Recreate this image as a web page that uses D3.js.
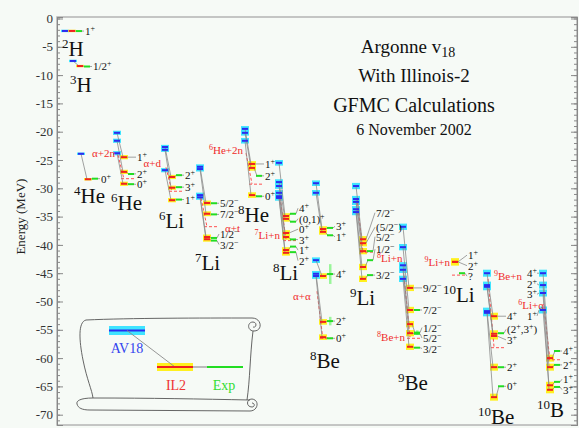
<!DOCTYPE html>
<html>
<head>
<meta charset="utf-8">
<script src="https://cdn.jsdelivr.net/npm/d3@7"></script>
<style>
  body { margin: 0; background: #f6faf6; }
  text { font-family: "Liberation Serif", "DejaVu Serif", serif; }
</style>
</head>
<body>
<div id="chart"></div>
<script>
// Set up the chart
var svgWidth = 579;
var svgHeight = 428;

var margin = {top: 17, right: 2, bottom: 3, left: 57};
var width = svgWidth - margin.left - margin.right;
var height = svgHeight - margin.top - margin.bottom;

// ---- data ----
var nuclei = ["2H", "3H", "4He", "6He", "6Li", "7Li", "8He", "8Li", "8Be", "9Li", "9Be", "10Li", "10Be", "10B"];
var massA  = [2, 3, 4, 6, 6, 7, 8, 8, 8, 9, 9, 10, 10, 10];
// slot of each nucleus along the (unlabelled) horizontal axis
var column = [5, 13, 21, 57, 105, 140, 185, 219, 256, 296, 343, 388, 427, 483];

var jpi = [
  ["1+"], ["1/2+"], ["0+"],
  ["1+", "2+", "0+"],
  ["2+", "3+", "1+"],
  ["5/2-", "7/2-", "1/2-", "3/2-"],
  ["1+", "2+", "0+"],
  ["4+", "(0,1)+", "0+", "3+", "1+", "2+"],
  ["3+", "1+", "4+", "2+", "0+"],
  ["7/2-", "(5/2-)", "5/2-", "1/2-", "3/2-"],
  ["9/2-", "7/2-", "1/2-", "5/2-", "3/2-"],
  ["1+", "2+", "?"],
  ["4+", "(2+,3+)", "3+", "2+", "0+"],
  ["4+", "2+", "3+", "1+"]
];

// energies in MeV
var av18 = [
  [-2.2], [-7.5], [-23.9],
  [-20.2, -21.6, -23.8],
  [-22.7, -23.2, -26.8],
  [-26.2, -26.6, -31.2, -31.6],
  [-19.5, -20.2, -21.6],
  [-25.5, -28.9, -29.6, -30.8, -31.4, -31.7],
  [-29.1, -30.8, -42.7, -45.1, -45.5],
  [-29.6, -31.9, -32.4, -33.7, -34.2],
  [-36.8, -40.4, -43.6, -44.4, -46.0],
  [null, null, null],
  [-45.0, -47.1, -47.4, -51.7, -52.0],
  [-45.0, -47.1, -48.5, -51.5]
];

var il2 = [
  [-2.2], [-8.4], [-28.4],
  [-24.5, -27.1, -29.2],
  [-28.0, -29.9, -32.1],
  [-32.6, -34.5, -38.6, -39.0],
  [-25.7, -26.4, -31.2],
  [-34.9, -35.4, -37.9, -38.6, -40.9, -41.4],
  [-37.2, -37.7, -45.5, -53.6, -56.3],
  [-39.0, -39.7, -41.1, -43.9, -46.0],
  [-47.6, -51.5, -54.0, -55.6, -58.0],
  [-43.0, -43.0, null],
  [-52.6, -55.7, -56.1, -61.6, -66.9],
  [-60.0, -61.6, -65.6, -64.8]
];

var expt = [
  [-2.22], [-8.48], [-28.30],
  [null, -27.47, -29.27],
  [-27.68, -29.80, -31.99],
  [-32.64, -34.61, -38.77, -39.24],
  [null, -27.8, -31.41],
  [-34.5, -35.9, null, -39.03, -40.30, -41.28],
  [-37.0, -38.3, -45.15, -53.46, -56.50],
  [null, null, -41.1, -42.7, -45.34],
  [null, -51.5, -55.5, -55.7, -58.16],
  [null, null, -45.0],
  [null, -55.6, null, -61.61, -64.98],
  [-58.75, -61.2, -65.1, -64.2]
];

// broad experimental states (full width, MeV)
var widthNucleus = ["8Be", "8Be", "9Be"];
var widthState   = ["4+", "2+", "1/2-"];
var widthMeV     = [3.5, 1.5, 0.8];

// breakup thresholds
var thrNucleus = ["6He", "6Li", "7Li", "8He", "8Li", "8Be", "9Li", "9Be", "10Li", "10Be", "10B"];
var thrName    = ["α+2n", "α+d", "α+t", "6He+2n", "7Li+n", "α+α", "8Li+n", "8Be+n", "9Li+n", "9Be+n", "6Li+α"];
var thrAv      = [-24.1, -26.3, -31.7, -23.8, -31.6, -48.2, -31.7, -45.5, null, -46.0, -50.9];
var thrIl      = [-28.4, -30.6, -36.8, -29.2, -39.0, -56.8, -41.4, -56.3, -46.0, -58.0, -60.5];
var thrExp     = [-28.30, -30.52, -36.78, -29.27, -39.24, -56.50, -41.28, -56.50, -45.34, -58.16, -60.29];

var majorTicks = d3.range(0, -71, -5);
var minorTicks = d3.range(0, -72, -1);

// ---- layout of annotations (not data) ----
var thrLayout = [
  {ref: "av", dx: 1, dy: -2, anchor: "end"},
  {ref: "av", dx: -1, dy: -4, anchor: "end"},
  {ref: "exp", dx: 28, dy: 1, anchor: "start"},
  {ref: "av", dx: 1, dy: -3, anchor: "end"},
  {ref: "exp", dx: 4, dy: -6, anchor: "end"},
  {ref: "av", dx: -20, dy: 5, anchor: "start"},
  {ref: "exp", dx: 24, dy: 6, anchor: "start"},
  {ref: "exp", dx: 5, dy: -1, anchor: "end"},
  {ref: "exp", dx: 5, dy: -13, anchor: "end"},
  {ref: "av", dx: 10, dy: -3, anchor: "start"},
  {ref: "av", dx: 4, dy: -2, anchor: "end"}
];
var namePos = [[62, 56], [70, 92], [74, 203], [111, 210], [159, 228], [195, 270], [238, 222],
               [273, 280], [310, 368], [350, 305], [398, 390], [443, 302], [478, 424], [537, 417]];
var labelNudge = {"9Li": [-20, -16, -17, -15, 0]};
var leftLabels = {"10B": [0, 0, 0, 6]};

var BLUE = "#2b2bf0", CYAN = "#3fe4ff", RED = "#f02020", YELLOW = "#fff01e", GREEN = "#22dd22", GRAY = "#8a8a8a";

// Create the SVG wrapper
var svg = d3.select("#chart")
  .append("svg")
  .attr("width", svgWidth)
  .attr("height", svgHeight);

svg.append("rect").attr("width", svgWidth).attr("height", svgHeight).attr("fill", "#f6faf6");

var x = d3.scaleLinear().domain([0, width]).range([margin.left, margin.left + width]);
var y = d3.scaleLinear().domain([0.265, -71.82]).range([margin.top, margin.top + height]);

// frame
svg.append("rect")
  .attr("x", margin.left).attr("y", margin.top)
  .attr("width", width).attr("height", height)
  .attr("fill", "none").attr("stroke", "#b4b4b4").attr("stroke-width", 1.5);

// axes
function styleAxis(g) {
  g.select(".domain").attr("stroke", "#888");
  g.selectAll(".tick line").attr("stroke", "#888");
  g.selectAll(".tick text").attr("font-family", "Liberation Serif").attr("font-size", 13).attr("fill", "#333");
}
svg.append("g").attr("transform", `translate(${margin.left},0)`)
  .call(d3.axisLeft(y).tickValues(minorTicks).tickSize(-3).tickFormat(""))
  .call(styleAxis);
svg.append("g").attr("transform", `translate(${margin.left},0)`)
  .call(d3.axisLeft(y).tickValues(majorTicks).tickSize(-6).tickPadding(4).tickFormat(d => String(d)))
  .call(styleAxis);
svg.append("g").attr("transform", `translate(${margin.left + width},0)`)
  .call(d3.axisRight(y).tickValues(minorTicks).tickSize(-3).tickFormat(""))
  .call(styleAxis);
svg.append("g").attr("transform", `translate(${margin.left + width},0)`)
  .call(d3.axisRight(y).tickValues(majorTicks).tickSize(-6).tickFormat(""))
  .call(styleAxis);

svg.append("text")
  .attr("transform", `translate(25, ${y(-35)}) rotate(-90)`)
  .attr("text-anchor", "middle")
  .attr("font-size", 13).attr("fill", "#222")
  .text("Energy (MeV)");

// title block
var title = svg.append("g").attr("text-anchor", "middle").attr("fill", "#111");
var t1 = title.append("text").attr("x", 408).attr("y", 53).attr("font-size", 19);
t1.append("tspan").text("Argonne v");
t1.append("tspan").attr("font-size", 14).attr("dy", 4).text("18");
title.append("text").attr("x", 414).attr("y", 82).attr("font-size", 19).text("With Illinois-2");
title.append("text").attr("x", 414).attr("y", 112).attr("font-size", 20).text("GFMC Calculations");
title.append("text").attr("x", 414).attr("y", 135).attr("font-size", 16).text("6 November 2002");

// helpers for text with superscripts
function addJpi(sel, s) {
  var parts = s.match(/[+-]|[^+-]+/g);
  var raised = false;
  parts.forEach(function(p) {
    if (p === "+" || p === "-") {
      sel.append("tspan").attr("dy", raised ? 0 : -4).attr("font-size", 8)
        .text(p === "-" ? "\u2212" : "+");
      raised = true;
    } else {
      sel.append("tspan").attr("dy", raised ? 4 : 0).text(p);
      raised = false;
    }
  });
}
function addIsotope(sel, s, supSize, mainSize, rise) {
  var m = s.match(/^(\d*)(.*)$/);
  if (m[1]) sel.append("tspan").attr("font-size", supSize).attr("dy", -rise).text(m[1]);
  sel.append("tspan").attr("font-size", mainSize).attr("dy", m[1] ? rise : 0).text(m[2]);
}

// spread label positions so they don't collide
function spread(ys, gap) {
  var cl = [];
  ys.forEach(function(v) {
    cl.push({sum: v, n: 1, start: v});
    while (cl.length > 1) {
      var b = cl[cl.length - 1], a = cl[cl.length - 2];
      if (b.start < a.start + a.n * gap) {
        a.sum += b.sum; a.n += b.n;
        a.start = a.sum / a.n - (a.n - 1) * gap / 2;
        cl.pop();
      } else break;
    }
  });
  var out = [];
  cl.forEach(function(c) { for (var k = 0; k < c.n; k++) out.push(c.start + k * gap); });
  return out;
}

var gHi = svg.append("g"), gThr = svg.append("g"), gLink = svg.append("g"),
    gBar = svg.append("g"), gLab = svg.append("g");

// thresholds
thrNucleus.forEach(function(nuc, k) {
  var i = nuclei.indexOf(nuc);
  var x0 = x(column[i]);
  var lay = thrLayout[k];
  if (thrAv[k] !== null) {
    gThr.append("line")
      .attr("x1", x0 + 4).attr("y1", y(thrAv[k]))
      .attr("x2", x0 + 10).attr("y2", y(thrIl[k]))
      .attr("stroke", "#ff5050").attr("stroke-width", 1).attr("stroke-dasharray", "3,2");
  }
  gThr.append("line")
    .attr("x1", x0 + 7).attr("y1", y(thrExp[k]))
    .attr("x2", x0 + 21).attr("y2", y(thrExp[k]))
    .attr("stroke", "#ff5050").attr("stroke-width", 1).attr("stroke-dasharray", "3,2");
  var ly = (lay.ref === "av" ? y(thrAv[k]) : y(thrExp[k])) + lay.dy;
  var t = gLab.append("text")
    .attr("x", x0 + lay.dx).attr("y", ly + 4)
    .attr("text-anchor", lay.anchor)
    .attr("fill", "#f02a2a").attr("font-size", 11);
  addIsotope(t, thrName[k], 8, 11, 4);
});

// levels
nuclei.forEach(function(nuc, i) {
  var x0 = x(column[i]);
  var half = massA[i] <= 4 ? 1.2 : 0.35 * massA[i];
  var levels = jpi[i].map(function(j, n) {
    return {j: j, av: av18[i][n], il: il2[i][n], ex: expt[i][n], n: n};
  });

  levels.forEach(function(d) {
    if (d.av !== null) {
      gHi.append("rect").attr("x", x0 - 1).attr("y", y(d.av) - half)
        .attr("width", 8).attr("height", 2 * half).attr("fill", CYAN);
      gBar.append("line").attr("x1", x0).attr("x2", x0 + 6)
        .attr("y1", y(d.av)).attr("y2", y(d.av)).attr("stroke", BLUE).attr("stroke-width", 2);
    }
    if (d.il !== null) {
      gHi.append("rect").attr("x", x0 + 6).attr("y", y(d.il) - half)
        .attr("width", 8).attr("height", 2 * half).attr("fill", YELLOW);
      gBar.append("line").attr("x1", x0 + 7).attr("x2", x0 + 13)
        .attr("y1", y(d.il)).attr("y2", y(d.il)).attr("stroke", RED).attr("stroke-width", 2);
    }
    if (d.ex !== null) {
      var w = widthNucleus.findIndex(function(v, k) { return v === nuc && widthState[k] === d.j; });
      if (w >= 0) {
        gHi.append("rect").attr("x", x0 + 16).attr("width", 2.5)
          .attr("y", y(d.ex + widthMeV[w] / 2))
          .attr("height", y(d.ex - widthMeV[w] / 2) - y(d.ex + widthMeV[w] / 2))
          .attr("fill", "#9af59a");
      }
      gBar.append("line").attr("x1", x0 + 14).attr("x2", x0 + 20)
        .attr("y1", y(d.ex)).attr("y2", y(d.ex)).attr("stroke", GREEN).attr("stroke-width", 2);
    }
    if (d.av !== null && d.il !== null) {
      gLink.append("line").attr("x1", x0 + 3).attr("y1", y(d.av))
        .attr("x2", x0 + 9).attr("y2", y(d.il))
        .attr("stroke", GRAY).attr("stroke-width", 0.8);
    }
    if (d.il !== null && d.ex !== null) {
      gLink.append("line").attr("x1", x0 + 12).attr("y1", y(d.il))
        .attr("x2", x0 + 15).attr("y2", y(d.ex))
        .attr("stroke", GRAY).attr("stroke-width", 0.8);
    }
  });

  // right-hand labels
  levels.forEach(function(d) {
    d.ref = d.ex !== null ? y(d.ex) : (d.il !== null ? y(d.il) : y(d.av));
    d.endX = d.ex !== null ? x0 + 20 : x0 + 13;
  });
  var sorted = levels.slice().sort(function(a, b) { return a.ref - b.ref; });
  var pos = spread(sorted.map(function(d) { return d.ref; }), 10.5);
  sorted.forEach(function(d, k) { d.ly = pos[k]; });
  if (labelNudge[nuc]) levels.forEach(function(d) { d.ly += labelNudge[nuc][d.n]; });

  levels.forEach(function(d) {
    gLink.append("line").attr("x1", d.endX).attr("y1", d.ref)
      .attr("x2", x0 + 22).attr("y2", d.ly)
      .attr("stroke", GRAY).attr("stroke-width", 0.8);
    var t = gLab.append("text").attr("x", x0 + 23).attr("y", d.ly + 4)
      .attr("font-size", 11).attr("fill", "#111");
    addJpi(t, d.j);
  });

  // left-hand labels on the AV18 side
  if (leftLabels[nuc]) {
    var sl = levels.slice().sort(function(a, b) { return a.av - b.av; }).reverse();
    var lp = spread(sl.map(function(d) { return y(d.av); }), 10.5);
    sl.forEach(function(d, k) {
      var yy = lp[k] + leftLabels[nuc][d.n];
      gLink.append("line").attr("x1", x0 - 1).attr("y1", y(d.av))
        .attr("x2", x0 - 3).attr("y2", yy)
        .attr("stroke", GRAY).attr("stroke-width", 0.8);
      var t = gLab.append("text").attr("x", x0 - 3).attr("y", yy + 4)
        .attr("text-anchor", "end").attr("font-size", 11).attr("fill", "#111");
      addJpi(t, d.j);
    });
  }

  // nucleus name
  var nt = gLab.append("text").attr("x", namePos[i][0]).attr("y", namePos[i][1]).attr("fill", "#111");
  addIsotope(nt, nuc, 13, 21, 8);
});

// legend scroll
var lg = svg.append("g");
var scroll = [
  "M86,320 C130,318 200,318 252,318 C262,318 263,331 254,331 C247,331 247,322 253,322 C257,322 257,328 253,327",
  "M253,331 C250,355 250,380 247,400",
  "M86,320 C78,322 79,340 83,360 C87,380 92,390 93,398",
  "M93,398 C150,398 200,399 250,400",
  "M93,398 C80,398 76,401 77,404 C78,408 82,410 90,410 L250,411 C258,411 260,400 252,399 C246,399 246,407 252,407 C255,407 255,403 252,403"
];
scroll.forEach(function(p) {
  lg.append("path").attr("d", p).attr("fill", "none").attr("stroke", "#555").attr("stroke-width", 0.9);
});
lg.append("rect").attr("x", 109).attr("y", 326).attr("width", 36).attr("height", 9).attr("fill", CYAN);
lg.append("line").attr("x1", 109).attr("x2", 145).attr("y1", 330.5).attr("y2", 330.5).attr("stroke", BLUE).attr("stroke-width", 2);
lg.append("rect").attr("x", 157).attr("y", 363).attr("width", 36).attr("height", 8).attr("fill", YELLOW);
lg.append("line").attr("x1", 127).attr("y1", 330.5).attr("x2", 175).attr("y2", 367).attr("stroke", GRAY).attr("stroke-width", 0.9);
lg.append("line").attr("x1", 157).attr("x2", 193).attr("y1", 367).attr("y2", 367).attr("stroke", RED).attr("stroke-width", 2);
lg.append("line").attr("x1", 193).attr("x2", 207).attr("y1", 367).attr("y2", 367).attr("stroke", "#bbb").attr("stroke-width", 2);
lg.append("line").attr("x1", 207).attr("x2", 243).attr("y1", 367).attr("y2", 367).attr("stroke", GREEN).attr("stroke-width", 2);
lg.append("text").attr("x", 127).attr("y", 353).attr("text-anchor", "middle").attr("font-size", 14).attr("fill", "#3344ee").text("AV18");
lg.append("text").attr("x", 176).attr("y", 390).attr("text-anchor", "middle").attr("font-size", 14).attr("fill", "#ee3333").text("IL2");
lg.append("text").attr("x", 224).attr("y", 390).attr("text-anchor", "middle").attr("font-size", 14).attr("fill", "#33dd33").text("Exp");
</script>
</body>
</html>
